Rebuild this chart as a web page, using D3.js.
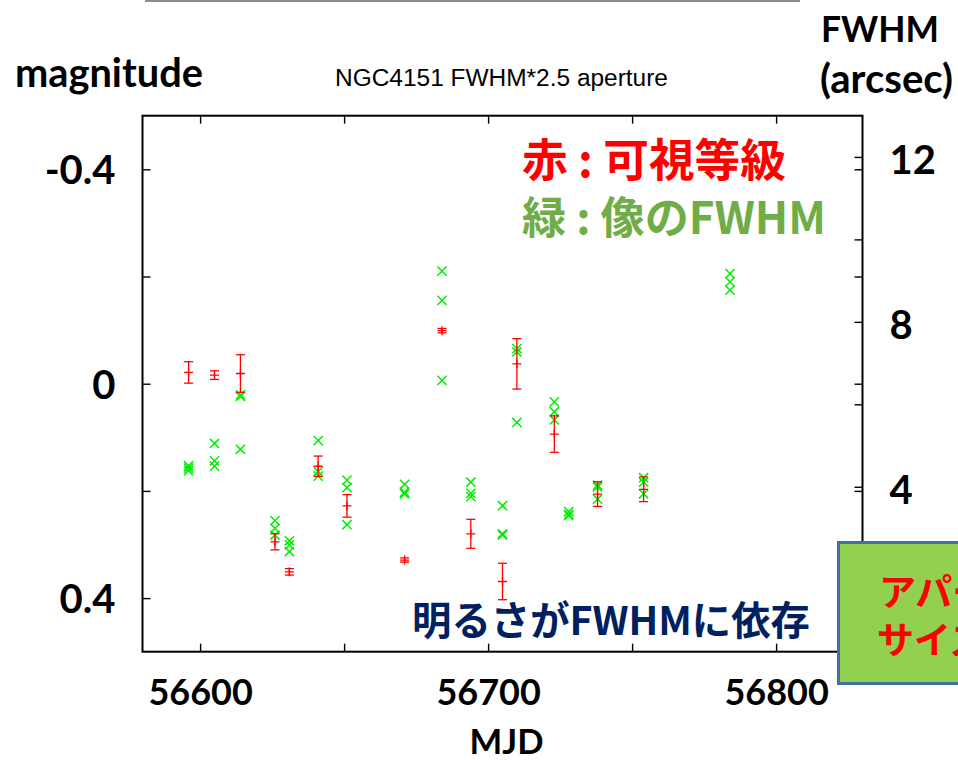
<!DOCTYPE html>
<html>
<head>
<meta charset="utf-8">
<script src="https://cdn.jsdelivr.net/npm/d3@7"></script>
<style>
  html, body { margin: 0; padding: 0; background: #fff; overflow: hidden; }
  svg { display: block; }
</style>
</head>
<body>
<svg id="chart" width="958" height="760"></svg>
<script>
// ---------- data ----------
const redMJD = [56596, 56605, 56614, 56626, 56631, 56641, 56651, 56671, 56684, 56694, 56705, 56710, 56723, 56738, 56754];
const redMag = [-0.021, -0.016, -0.019, 0.295, 0.351, 0.154, 0.228, 0.329, -0.099, 0.280, 0.369, -0.037, 0.094, 0.206, 0.197];
const redErr = [0.020, 0.008, 0.035, 0.015, 0.006, 0.019, 0.021, 0.004, 0.004, 0.027, 0.034, 0.047, 0.034, 0.023, 0.023];

const greenMJD = [56596, 56596, 56596, 56605, 56605, 56605, 56614, 56614, 56614, 56626, 56626, 56626,
                  56631, 56631, 56631, 56641, 56641, 56641, 56651, 56651, 56651, 56671, 56671, 56671,
                  56684, 56684, 56684, 56694, 56694, 56694, 56705, 56705, 56705, 56710, 56710, 56710,
                  56723, 56723, 56723, 56728, 56728, 56728, 56738, 56738, 56738, 56754, 56754, 56754,
                  56784, 56784, 56784];
const greenFWHM = [4.51, 4.45, 4.39, 5.05, 4.63, 4.50, 6.23, 6.19, 4.91, 3.18, 2.99, 2.83,
                   2.69, 2.59, 2.43, 5.12, 4.37, 4.26, 4.16, 3.98, 3.08, 4.06, 3.87, 3.83,
                   9.23, 8.52, 6.58, 4.11, 3.84, 3.76, 3.54, 2.86, 2.83, 7.35, 7.27, 5.56,
                   6.06, 5.82, 5.62, 3.40, 3.33, 3.30, 4.04, 3.99, 3.70, 4.22, 4.11, 3.83,
                   9.17, 8.97, 8.77];

const xTicks = [56600, 56650, 56700, 56750, 56800];
const xTickLabels = ["56600", "", "56700", "", "56800"];
const yTicks = [-0.4, -0.2, 0, 0.2, 0.4];
const yTickLabels = ["-0.4", "", "0", "", "0.4"];
const y2Ticks = [4, 6, 8, 10, 12];
const y2TickLabels = ["4", "", "8", "", "12"];

// ---------- layout ----------
const svg = d3.select("#chart");
const L = 142.5, T = 115.7, R = 862.5, B = 651.7;
const x = d3.scaleLinear().domain([56580, 56830]).range([L, R]);
const y = d3.scaleLinear().domain([-0.5, 0.5]).range([T, B]);
const y2 = d3.scaleLinear().domain([0, 13]).range([B, T]);

const BOLD = "Lato, 'Open Sans', 'DejaVu Sans', sans-serif";
const CJK = "'Noto Sans CJK JP', 'Noto Sans CJK SC', sans-serif";

function fit(sel, w) {
  const cur = sel.node().getComputedTextLength();
  const fs = parseFloat(sel.attr("font-size"));
  sel.attr("font-size", (fs * w / cur).toFixed(2));
  return sel;
}

// top grey line
svg.append("line").attr("x1", 145).attr("x2", 800).attr("y1", 1).attr("y2", 1)
  .attr("stroke", "#8c8c8c").attr("stroke-width", 2);

// ---------- axes ----------
function styleAxis(g) {
  g.select(".domain").remove();
  g.selectAll(".tick line").attr("stroke", "#000").attr("stroke-width", 1.4);
  g.selectAll("text").attr("font-family", BOLD).attr("font-weight", 700).attr("fill", "#000");
}

const gLeft = svg.append("g").attr("transform", `translate(${L},0)`)
  .call(d3.axisLeft(y).tickValues(yTicks).tickSize(-8).tickPadding(27)
    .tickFormat((d, i) => yTickLabels[i]));
styleAxis(gLeft);
gLeft.selectAll("text").attr("font-size", 40).attr("dy", "0.36em");

const gRightMirror = svg.append("g").attr("transform", `translate(${R},0)`)
  .call(d3.axisRight(y).tickValues(yTicks).tickSize(-8).tickFormat(""));
styleAxis(gRightMirror);

const gRight = svg.append("g").attr("transform", `translate(${R},0)`)
  .call(d3.axisRight(y2).tickValues(y2Ticks).tickSize(-8).tickPadding(27)
    .tickFormat((d, i) => y2TickLabels[i]));
styleAxis(gRight);
gRight.selectAll("text").attr("font-size", 40).attr("dy", "0.42em");

const gBottom = svg.append("g").attr("transform", `translate(0,${B})`)
  .call(d3.axisBottom(x).tickValues(xTicks).tickSize(-8)
    .tickFormat((d, i) => xTickLabels[i]));
styleAxis(gBottom);
gBottom.selectAll("text").attr("font-size", 36).attr("y", 53).attr("dy", null);

const gTop = svg.append("g").attr("transform", `translate(0,${T})`)
  .call(d3.axisTop(x).tickValues(xTicks).tickSize(-8).tickFormat(""));
styleAxis(gTop);

// frame
svg.append("rect").attr("x", L).attr("y", T).attr("width", R - L).attr("height", B - T)
  .attr("fill", "none").attr("stroke", "#000").attr("stroke-width", 2);

// ---------- green FWHM crosses ----------
const greens = greenMJD.map((m, i) => ({ m, f: greenFWHM[i] }));
svg.append("g").selectAll("path").data(greens).join("path")
  .attr("transform", d => `translate(${x(d.m)},${y2(d.f)})`)
  .attr("d", "M-4.6,-4.6L4.6,4.6M-4.6,4.6L4.6,-4.6")
  .attr("stroke", "#00ee00").attr("stroke-width", 1.5).attr("fill", "none");

// ---------- red magnitudes with error bars ----------
const reds = redMJD.map((m, i) => ({ m, v: redMag[i], e: redErr[i] }));
const gr = svg.append("g").attr("stroke", "#ff0000").attr("stroke-width", 1.3).attr("fill", "none");
const rp = gr.selectAll("g").data(reds).join("g")
  .attr("transform", d => `translate(${x(d.m)},0)`);
rp.append("line").attr("x1", 0).attr("x2", 0)
  .attr("y1", d => y(d.v - d.e)).attr("y2", d => y(d.v + d.e));
rp.append("line").attr("x1", -4.5).attr("x2", 4.5)
  .attr("y1", d => y(d.v - d.e)).attr("y2", d => y(d.v - d.e));
rp.append("line").attr("x1", -4.5).attr("x2", 4.5)
  .attr("y1", d => y(d.v + d.e)).attr("y2", d => y(d.v + d.e));
rp.append("path")
  .attr("d", d => `M-4.5,${y(d.v)}L4.5,${y(d.v)}M0,${y(d.v) - 4.5}L0,${y(d.v) + 4.5}`);

// ---------- texts ----------
fit(svg.append("text").attr("x", 15).attr("y", 87).text("magnitude")
  .attr("font-family", BOLD).attr("font-weight", 700).attr("font-size", 34).attr("fill", "#000"), 188);

fit(svg.append("text").attr("x", 335).attr("y", 86).text("NGC4151 FWHM*2.5 aperture")
  .attr("font-family", "'Liberation Sans', Arial, sans-serif").attr("font-size", 20).attr("fill", "#000"), 333);

fit(svg.append("text").attr("x", 821).attr("y", 42).text("FWHM")
  .attr("font-family", BOLD).attr("font-weight", 700).attr("font-size", 36).attr("fill", "#000"), 118);
fit(svg.append("text").attr("x", 820).attr("y", 93).text("(arcsec)")
  .attr("font-family", BOLD).attr("font-weight", 700).attr("font-size", 36).attr("fill", "#000"), 133);

fit(svg.append("text").attr("x", (469 + 544) / 2).attr("y", 754).attr("text-anchor", "middle").text("MJD")
  .attr("font-family", BOLD).attr("font-weight", 700).attr("font-size", 34).attr("fill", "#000"), 74);

// legend
fit(svg.append("text").attr("x", 522).attr("y", 177).text("赤 : 可視等級")
  .attr("font-family", CJK).attr("font-weight", 700).attr("font-size", 44).attr("fill", "#ff0000"), 264);
fit(svg.append("text").attr("x", 522).attr("y", 234).text("緑 : 像のFWHM")
  .attr("font-family", CJK).attr("font-weight", 700).attr("font-size", 44).attr("fill", "#70ad47"), 304);

// note
fit(svg.append("text").attr("x", 412).attr("y", 635).text("明るさがFWHMに依存")
  .attr("font-family", CJK).attr("font-weight", 700).attr("font-size", 38).attr("fill", "#002060"), 398);

// green box
svg.append("rect").attr("x", 838.5).attr("y", 542.5).attr("width", 140).attr("height", 141)
  .attr("fill", "#92d050").attr("stroke", "#41719c").attr("stroke-width", 3);
svg.append("text").attr("x", 879).attr("y", 606).text("アパーチャ")
  .attr("font-family", CJK).attr("font-weight", 700).attr("font-size", 37).attr("fill", "#ff0000");
svg.append("text").attr("x", 877).attr("y", 654).text("サイズ")
  .attr("font-family", CJK).attr("font-weight", 700).attr("font-size", 37).attr("fill", "#ff0000");
</script>
</body>
</html>
